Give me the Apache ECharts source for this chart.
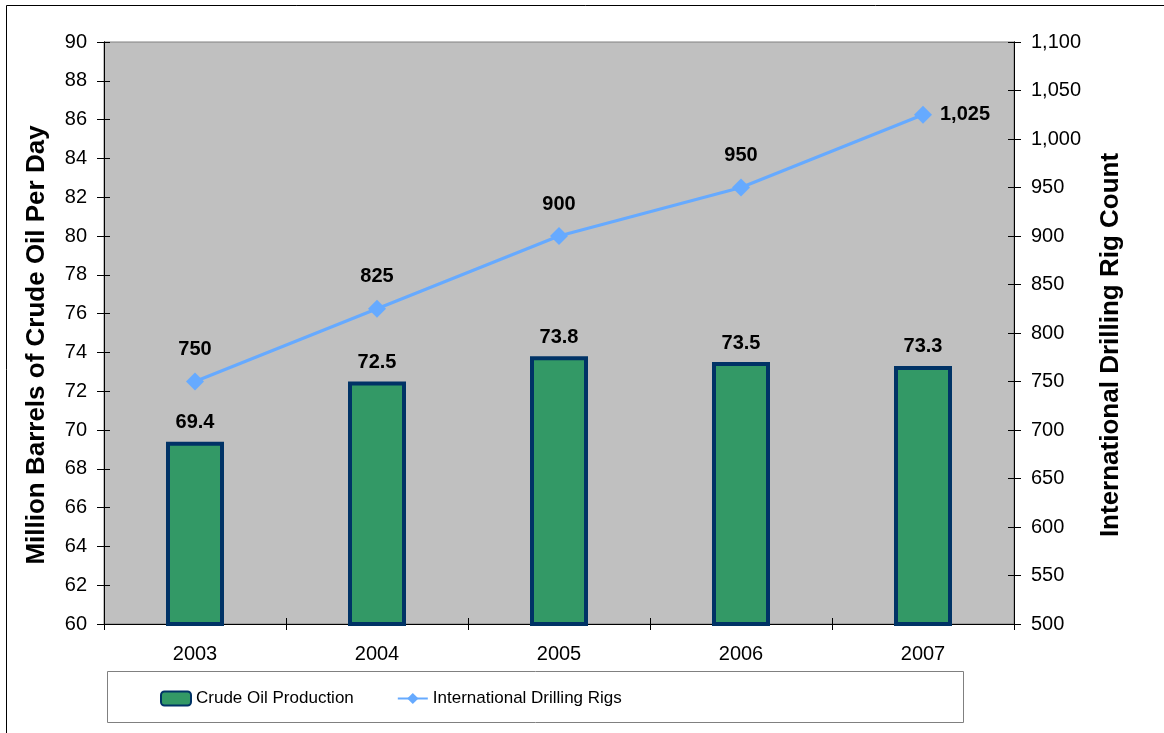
<!DOCTYPE html>
<html>
<head>
<meta charset="utf-8">
<script src="https://cdn.jsdelivr.net/npm/echarts@6/dist/echarts.min.js"></script>
<style>
  html, body { margin: 0; padding: 0; background: #fff; }
  #main { width: 1164px; height: 733px; }
</style>
</head>
<body>
<div id="main"></div>
<script>
// data
var years = ["2003", "2004", "2005", "2006", "2007"];
var oilProduction = [69.4, 72.5, 73.8, 73.5, 73.3];
var drillingRigs = [750, 825, 900, 950, 1025];

var FONT = "Liberation Sans, Arial, sans-serif";

var myChart = echarts.init(document.getElementById("main"));

var leftAxisBase = {
  type: "value",
  min: 60,
  max: 90,
  interval: 2,
  position: "left",
  splitLine: { show: false },
  axisLine: { show: true, lineStyle: { color: "#000", width: 1 } }
};
var rightAxisBase = {
  type: "value",
  min: 500,
  max: 1100,
  interval: 50,
  position: "right",
  splitLine: { show: false },
  axisLine: { show: true, lineStyle: { color: "#000", width: 1 } }
};

var option = {
  animation: false,
  textStyle: { fontFamily: FONT },
  graphic: [
    // outer chart frame
    { type: "rect", shape: { x: 6.5, y: 5.5, width: 1300, height: 900 }, style: { fill: "none", stroke: "#000", lineWidth: 1 }, z: 100 },
    // legend box
    { type: "rect", shape: { x: 107.5, y: 671.5, width: 856, height: 51 }, style: { fill: "#fff", stroke: "#808080", lineWidth: 1 }, z: 1 }
  ],
  grid: {
    left: 104,
    right: 150,
    top: 42,
    bottom: 109,
    show: true,
    backgroundColor: "#C0C0C0",
    borderColor: "#808080",
    borderWidth: 1
  },
  legend: {
    left: 155,
    top: 685,
    itemGap: 43,
    itemWidth: 30,
    itemHeight: 14,
    textStyle: { fontSize: 17, color: "#000" },
    data: [
      { name: "Crude Oil Production" },
      { name: "International Drilling Rigs" }
    ],
    z: 5
  },
  xAxis: [
    {
      type: "category",
      data: years,
      axisLine: { lineStyle: { color: "#000" } },
      axisTick: { show: true, length: 6, lineStyle: { color: "#000" } },
      axisLabel: { color: "#000", fontSize: 20, margin: 20 }
    },
    {
      type: "category",
      data: years,
      position: "bottom",
      axisLine: { show: false },
      axisTick: { show: true, inside: true, length: 6, lineStyle: { color: "#000" } },
      axisLabel: { show: false }
    }
  ],
  yAxis: [
    Object.assign({}, leftAxisBase, {
      name: "Million Barrels of Crude Oil Per Day",
      nameLocation: "middle",
      nameGap: 54,
      nameTextStyle: { fontSize: 26, fontWeight: "bold", color: "#000", padding: [0, 24, 0, 0] },
      axisTick: { show: true, length: 7, lineStyle: { color: "#000" } },
      axisLabel: { color: "#000", fontSize: 20, margin: 17 }
    }),
    Object.assign({}, rightAxisBase, {
      name: "International Drilling Rig Count",
      nameLocation: "middle",
      nameGap: 84,
      nameTextStyle: { fontSize: 26, fontWeight: "bold", color: "#000", padding: [0, 24, 0, 0] },
      axisTick: { show: true, length: 7, lineStyle: { color: "#000" } },
      axisLabel: {
        color: "#000",
        fontSize: 20,
        margin: 17,
        formatter: function (v) { return v.toLocaleString("en-US"); }
      }
    }),
    // inner halves of the crossing ticks
    Object.assign({}, leftAxisBase, {
      axisTick: { show: true, inside: true, length: 6, lineStyle: { color: "#000" } },
      axisLabel: { show: false }
    }),
    Object.assign({}, rightAxisBase, {
      axisTick: { show: true, inside: true, length: 6, lineStyle: { color: "#000" } },
      axisLabel: { show: false }
    })
  ],
  series: [
    {
      name: "Crude Oil Production",
      type: "bar",
      data: oilProduction,
      xAxisIndex: 0,
      yAxisIndex: 0,
      barWidth: 58,
      itemStyle: { color: "#339966", borderColor: "#003366", borderWidth: 4 },
      label: {
        show: true,
        position: "top",
        distance: 9,
        fontSize: 20,
        fontWeight: "bold",
        color: "#000"
      }
    },
    {
      name: "International Drilling Rigs",
      type: "line",
      data: drillingRigs.map(function (v, i) {
        // last label sits to the right of its point
        return i === drillingRigs.length - 1 ? { value: v, label: { position: "right", distance: 8 } } : v;
      }),
      xAxisIndex: 0,
      yAxisIndex: 1,
      symbol: "diamond",
      symbolSize: 18,
      lineStyle: { color: "#66AAFF", width: 3 },
      itemStyle: { color: "#66AAFF" },
      label: {
        show: true,
        position: "top",
        distance: 13,
        fontSize: 20,
        fontWeight: "bold",
        color: "#000",
        formatter: function (p) { return p.value.toLocaleString("en-US"); }
      },
      z: 3
    }
  ]
};

myChart.setOption(option);
window.onresize = myChart.resize;
</script>
</body>
</html>
